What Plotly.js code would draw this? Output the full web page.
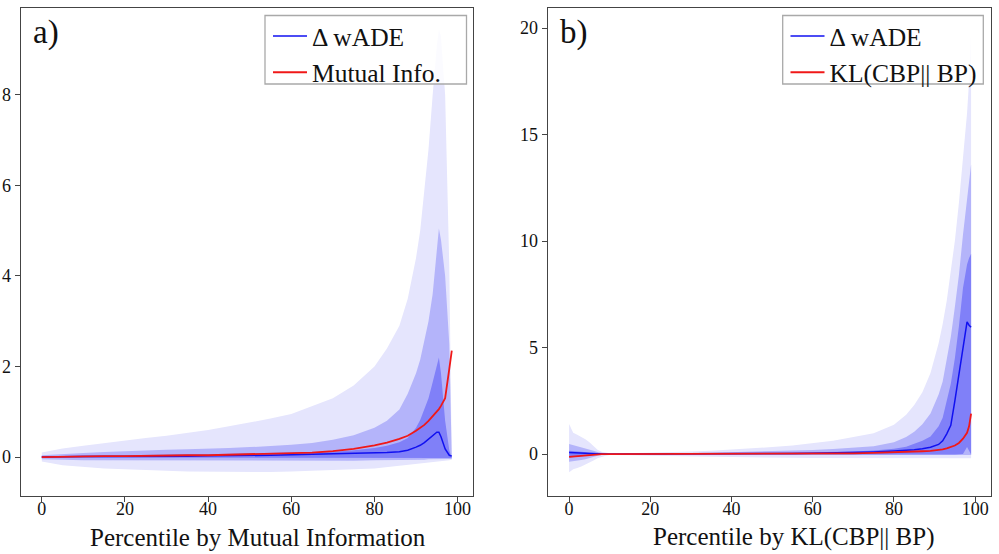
<!DOCTYPE html>
<html>
<head>
<meta charset="utf-8">
<script src="https://cdn.plot.ly/plotly-3.0.1.min.js"></script>
<style>html,body{margin:0;padding:0;background:#fff;}#chart{width:999px;height:554px;}</style>
</head>
<body>
<div id="chart"></div>
<script>
// ---------- Panel a: percentile by Mutual Information ----------
const aPct = [0,5,10,15,20,25,30,35,40,45,50,55,60,65,70,75,80,83,86,88,90,91,92,93,94,95,95.5,96,97,98,98.6];
const aLightHi = [0.10,0.19,0.25,0.31,0.37,0.42,0.47,0.53,0.60,0.68,0.76,0.85,0.95,1.12,1.30,1.58,2.00,2.40,2.90,3.50,4.40,5.00,5.90,6.80,8.00,9.10,9.45,9.30,8.00,4.20,-0.05];
const aLightLo = [-0.10,-0.18,-0.22,-0.25,-0.27,-0.29,-0.30,-0.32,-0.32,-0.33,-0.33,-0.33,-0.32,-0.31,-0.29,-0.27,-0.25,-0.23,-0.20,-0.18,-0.16,-0.15,-0.14,-0.13,-0.11,-0.10,-0.10,-0.09,-0.08,-0.07,-0.06];
const aMidHi = [0.04,0.07,0.09,0.11,0.13,0.14,0.16,0.17,0.18,0.20,0.22,0.24,0.27,0.31,0.38,0.48,0.65,0.80,1.05,1.40,1.85,2.15,2.55,3.00,3.60,4.50,5.05,4.80,4.00,2.50,-0.03];
const aMidLo = [-0.05,-0.06,-0.07,-0.07,-0.08,-0.08,-0.08,-0.08,-0.08,-0.08,-0.08,-0.08,-0.08,-0.08,-0.08,-0.08,-0.07,-0.07,-0.07,-0.06,-0.06,-0.06,-0.06,-0.05,-0.05,-0.05,-0.05,-0.05,-0.04,-0.04,-0.04];
const aDarkHi = [0.02,0.03,0.03,0.04,0.04,0.05,0.05,0.06,0.06,0.07,0.07,0.08,0.09,0.10,0.12,0.15,0.20,0.25,0.33,0.42,0.65,0.82,1.05,1.30,1.65,2.05,2.20,1.85,0.80,0.15,0.02];
const aDarkLo = [-0.01,-0.02,-0.02,-0.02,-0.02,-0.02,-0.02,-0.02,-0.02,-0.02,-0.02,-0.02,-0.02,-0.02,-0.02,-0.02,-0.02,-0.02,-0.02,-0.02,-0.02,-0.02,-0.02,-0.02,-0.02,-0.02,-0.02,-0.02,-0.02,-0.02,-0.02];
const aWade = [0.00,0.01,0.01,0.01,0.01,0.02,0.02,0.02,0.03,0.03,0.04,0.04,0.05,0.06,0.07,0.08,0.09,0.10,0.12,0.15,0.22,0.26,0.32,0.39,0.48,0.55,0.55,0.45,0.18,0.04,0.02];
const aMI = [0.00,0.01,0.01,0.02,0.02,0.03,0.03,0.04,0.04,0.05,0.06,0.07,0.08,0.10,0.13,0.18,0.26,0.32,0.40,0.47,0.58,0.64,0.71,0.80,0.90,1.00,1.06,1.13,1.30,1.95,2.35];

// ---------- Panel b: percentile by KL(CBP|| BP) ----------
const bPct = [0,1,2,3,4,5,6,7,8,9,10,12,15,20,25,30,35,40,45,50,55,60,65,70,75,80,83,85,87,89,91,92,93,94,95,96,97,98,98.5,99];
const bLightHi = [1.41,1.00,0.90,0.81,0.70,0.55,0.35,0.20,0.11,0.06,0.04,0.03,0.04,0.06,0.09,0.12,0.15,0.20,0.26,0.33,0.40,0.50,0.62,0.80,0.98,1.38,1.85,2.30,2.90,3.80,5.20,6.10,7.20,8.60,10.00,11.80,13.80,16.00,17.50,19.90];
const bLightLo = [-0.85,-0.72,-0.65,-0.58,-0.50,-0.40,-0.30,-0.20,-0.13,-0.08,-0.05,-0.05,-0.06,-0.08,-0.10,-0.12,-0.13,-0.15,-0.16,-0.17,-0.18,-0.19,-0.20,-0.21,-0.22,-0.22,-0.22,-0.22,-0.22,-0.22,-0.22,-0.22,-0.22,-0.22,-0.22,-0.22,-0.21,-0.20,-0.20,-0.20];
const bMidHi = [0.47,0.42,0.38,0.34,0.28,0.22,0.16,0.10,0.05,0.03,0.02,0.02,0.02,0.03,0.04,0.05,0.06,0.08,0.10,0.12,0.15,0.19,0.24,0.30,0.36,0.55,0.80,1.05,1.40,1.90,2.80,3.40,4.40,5.50,6.90,8.40,10.30,12.00,12.90,13.60];
const bMidLo = [-0.36,-0.33,-0.30,-0.28,-0.25,-0.20,-0.14,-0.08,-0.05,-0.03,-0.02,-0.02,-0.02,-0.03,-0.03,-0.03,-0.04,-0.04,-0.04,-0.04,-0.05,-0.05,-0.05,-0.05,-0.05,-0.06,-0.06,-0.06,-0.06,-0.06,-0.06,-0.06,-0.06,-0.06,-0.06,-0.06,-0.06,-0.05,-0.05,-0.05];
const bDarkHi = [0.16,0.14,0.12,0.10,0.08,0.06,0.04,0.02,0.01,0.01,0.01,0.01,0.01,0.01,0.01,0.02,0.02,0.03,0.04,0.05,0.06,0.07,0.09,0.12,0.17,0.25,0.34,0.47,0.62,0.82,1.30,1.70,2.50,3.30,4.50,6.00,7.80,8.90,9.20,9.40];
const bDarkLo = [-0.16,-0.14,-0.12,-0.10,-0.09,-0.07,-0.05,-0.03,-0.01,-0.01,-0.01,-0.01,-0.01,-0.01,-0.01,-0.01,-0.01,-0.01,-0.01,-0.01,-0.01,-0.02,-0.02,-0.02,-0.02,-0.02,-0.02,-0.02,-0.02,-0.02,-0.02,-0.02,-0.02,-0.02,-0.02,-0.02,0.00,0.33,0.15,-0.02];
const bWade = [0.07,0.07,0.06,0.05,0.04,0.03,0.02,0.01,0.00,0.00,0.00,0.00,0.00,0.01,0.01,0.01,0.01,0.02,0.02,0.03,0.03,0.04,0.05,0.07,0.10,0.14,0.17,0.20,0.25,0.32,0.45,0.62,0.95,1.35,2.50,3.75,5.00,6.20,6.05,5.95];
const bKL = [-0.13,-0.11,-0.09,-0.07,-0.05,-0.03,-0.02,-0.01,0.00,0.00,0.00,0.00,0.00,0.00,0.00,0.00,0.00,0.00,0.00,0.01,0.01,0.01,0.02,0.03,0.05,0.07,0.09,0.11,0.13,0.15,0.18,0.22,0.27,0.32,0.40,0.52,0.72,1.00,1.30,1.90];

// ---------- labels ----------
const seriesNames = {wade: "Δ wADE", mi: "Mutual Info.", kl: "KL(CBP|| BP)"};
const xTitles = ["Percentile by Mutual Information", "Percentile by KL(CBP|| BP)"];
const panelLabels = ["a)", "b)"];
const xTicks = [0,20,40,60,80,100];
const aYTicks = [0,2,4,6,8];
const bYTicks = [0,5,10,15,20];

// ---------- styles ----------
const FONT = "'Liberation Serif', 'Times New Roman', serif";
const C_LIGHT = "rgb(229,229,253)";
const C_MID = "rgb(180,180,250)";
const C_DARK = "rgb(128,128,248)";
const C_BLUE = "#1010f0";
const C_RED = "#f01818";

function band(x, hi, lo, color, xa, ya) {
  return {
    x: x.concat(x.slice().reverse()),
    y: hi.concat(lo.slice().reverse()),
    xaxis: xa, yaxis: ya,
    type: "scatter", mode: "lines", fill: "toself",
    fillcolor: color, line: {width: 0, color: color},
    hoverinfo: "skip", showlegend: false
  };
}
function line(x, y, name, color, w, xa, ya, leg) {
  return {x: x, y: y, name: name, xaxis: xa, yaxis: ya, legend: leg,
    type: "scatter", mode: "lines", line: {color: color, width: w}};
}

const traces = [
  band(aPct, aLightHi, aLightLo, C_LIGHT, "x", "y"),
  band(aPct, aMidHi, aMidLo, C_MID, "x", "y"),
  band(aPct, aDarkHi, aDarkLo, C_DARK, "x", "y"),
  line(aPct, aWade, seriesNames.wade, C_BLUE, 1.5, "x", "y", "legend"),
  line(aPct, aMI, seriesNames.mi, C_RED, 1.8, "x", "y", "legend"),
  band(bPct, bLightHi, bLightLo, C_LIGHT, "x2", "y2"),
  band(bPct, bMidHi, bMidLo, C_MID, "x2", "y2"),
  band(bPct, bDarkHi, bDarkLo, C_DARK, "x2", "y2"),
  line(bPct, bWade, seriesNames.wade, C_BLUE, 1.5, "x2", "y2", "legend2"),
  line(bPct, bKL, seriesNames.kl, C_RED, 1.8, "x2", "y2", "legend2")
];

const W = 999, H = 554;
const yDom = [1 - 496/H, 1 - 8/H];
function axisBase(extra) {
  return Object.assign({
    showgrid: false, zeroline: false, showline: true, mirror: true,
    linecolor: "#444", linewidth: 1.3, ticks: "outside", ticklen: 5,
    tickcolor: "#444", tickwidth: 1, automargin: false,
    tickfont: {family: FONT, size: 18, color: "#111"}
  }, extra);
}
const legendBase = {
  font: {family: FONT, size: 25.5, color: "#111"},
  bgcolor: "rgba(0,0,0,0)", borderwidth: 0,
  xanchor: "left", yanchor: "top", y: 1 - 13/H, tracegroupgap: 0, itemwidth: 34
};
function frame(x0, x1) {
  return {type: "rect", xref: "paper", yref: "paper", layer: "above",
    x0: x0/W, x1: x1/W, y0: 1 - 84/H, y1: 1 - 15.5/H,
    line: {color: "#a9a9a9", width: 1.3}, fillcolor: "rgba(255,255,255,0.85)"};
}

const layout = {
  width: W, height: H,
  margin: {l: 0, r: 0, t: 0, b: 0},
  paper_bgcolor: "#fff", plot_bgcolor: "#fff",
  font: {family: FONT},
  xaxis: axisBase({domain: [21/W, 473/W], range: [-5, 103.7], tickvals: xTicks, anchor: "y", ticklabelstandoff: -9}),
  yaxis: axisBase({domain: yDom, range: [-0.86, 9.92], tickvals: aYTicks, anchor: "x"}),
  xaxis2: axisBase({domain: [548/W, 991/W], range: [-5.2, 103.9], tickvals: xTicks, anchor: "y2", ticklabelstandoff: -9}),
  yaxis2: axisBase({domain: yDom, range: [-1.97, 20.94], tickvals: bYTicks, anchor: "x2"}),
  legend: Object.assign({}, legendBase, {x: 268/W}),
  legend2: Object.assign({}, legendBase, {x: 785.5/W}),
  shapes: [frame(265, 466.5), frame(782.7, 983.3)],
  annotations: [
    {text: panelLabels[0], xref: "paper", yref: "paper", x: 31/W, y: 1 - 33/H, xanchor: "left", yanchor: "middle", showarrow: false, font: {family: FONT, size: 33, color: "#111"}},
    {text: panelLabels[1], xref: "paper", yref: "paper", x: 558/W, y: 1 - 33/H, xanchor: "left", yanchor: "middle", showarrow: false, font: {family: FONT, size: 33, color: "#111"}},
    {text: xTitles[0], xref: "paper", yref: "paper", x: 258/W, y: 1 - 537/H, xanchor: "center", yanchor: "middle", showarrow: false, font: {family: FONT, size: 25, color: "#111"}},
    {text: xTitles[1], xref: "paper", yref: "paper", x: 794/W, y: 1 - 537/H, xanchor: "center", yanchor: "middle", showarrow: false, font: {family: FONT, size: 25, color: "#111"}}
  ]
};

Plotly.newPlot("chart", traces, layout, {displayModeBar: false, staticPlot: true});
</script>
</body>
</html>
